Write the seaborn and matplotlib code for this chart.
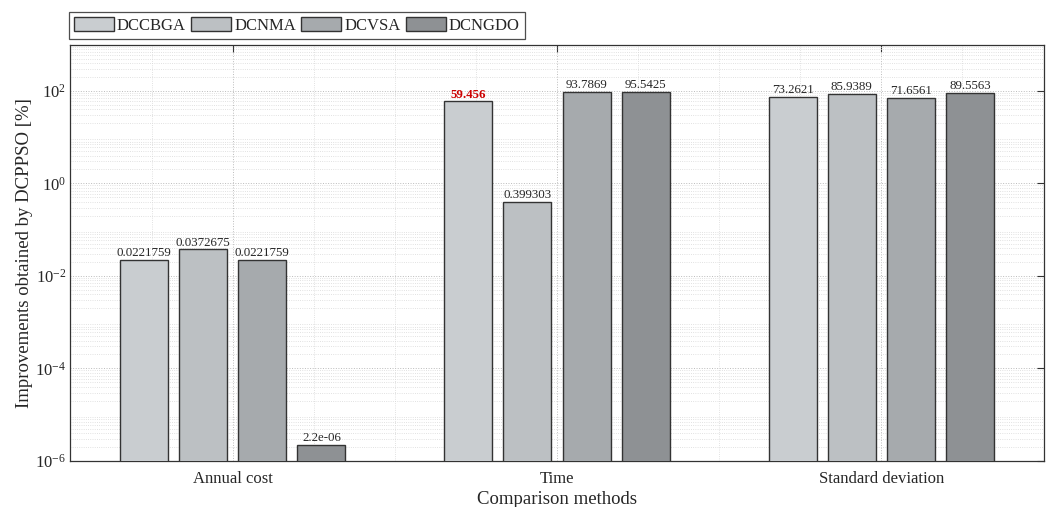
import numpy as np
import pandas as pd
import seaborn as sns
import matplotlib.pyplot as plt
from matplotlib.ticker import LogLocator, MultipleLocator, NullFormatter

# data
categories = ['Annual cost', 'Time', 'Standard deviation']
methods = ['DCCBGA', 'DCNMA', 'DCVSA', 'DCNGDO']
dccbga = [0.0221759, 59.456, 73.2621]
dcnma = [0.0372675, 0.399303, 85.9389]
dcvsa = [0.0221759, 93.7869, 71.6561]
dcngdo = [2.2e-06, 95.5425, 89.5563]
labels_txt = {
    'DCCBGA': ['0.0221759', '59.456', '73.2621'],
    'DCNMA': ['0.0372675', '0.399303', '85.9389'],
    'DCVSA': ['0.0221759', '93.7869', '71.6561'],
    'DCNGDO': ['2.2e-06', '95.5425', '89.5563'],
}
colors = ['#c9cdd0', '#bcc0c3', '#a6aaad', '#8e9194']

rows = []
for m, vals in zip(methods, [dccbga, dcnma, dcvsa, dcngdo]):
    for c, v in zip(categories, vals):
        rows.append({'cat': c, 'method': m, 'val': v})
df = pd.DataFrame(rows)

sns.set_style('white')
plt.rcParams['font.family'] = ['Liberation Serif', 'DejaVu Serif']
plt.rcParams['mathtext.fontset'] = 'stix'

fig, ax = plt.subplots(figsize=(10.52, 5.07), dpi=100)
fig.subplots_adjust(left=0.067, right=0.992, top=0.912, bottom=0.091)

ax.set_yscale('log')
sns.barplot(data=df, x='cat', y='val', hue='method', order=categories,
            hue_order=methods, palette=colors, width=0.73, gap=0.19,
            edgecolor='#333333', linewidth=1.0, saturation=1, ax=ax, zorder=3)

ax.set_ylim(1e-6, 1e3)
ax.set_xlim(-0.5, 2.5)

# value labels
for cont, m in zip(ax.containers, methods):
    txts = ax.bar_label(cont, labels=labels_txt[m], padding=0.5, fontsize=9.3)
    if m == 'DCCBGA':
        txts[1].set_color('#cc0000')
        txts[1].set_fontweight('bold')

# ticks / grid
ax.set_yticks([1e-6, 1e-4, 1e-2, 1e0, 1e2])
ax.yaxis.set_minor_locator(LogLocator(base=10, subs=np.arange(2, 10), numticks=20))
ax.yaxis.set_minor_formatter(NullFormatter())
ax.xaxis.set_minor_locator(MultipleLocator(0.25))
ax.grid(which='major', linestyle=':', color='#bbbbbb', linewidth=0.7, zorder=0)
ax.grid(which='minor', linestyle=':', color='#d8d8d8', linewidth=0.6, zorder=0)
ax.tick_params(which='major', direction='in', length=5, top=True, right=True,
               labelsize=12, color='#333333', pad=3)
ax.tick_params(axis='x', which='major', pad=7)
ax.tick_params(which='minor', length=0)
for s in ax.spines.values():
    s.set_color('#333333')
    s.set_linewidth(0.9)

ax.set_xlabel('Comparison methods', fontsize=13.5, labelpad=3)
ax.set_ylabel('Improvements obtained by DCPPSO [%]', fontsize=13.5, labelpad=2)

leg = ax.legend(loc='lower left', bbox_to_anchor=(-0.002, 1.014), ncol=4,
                frameon=True, fancybox=False, edgecolor='#222222', fontsize=12,
                handlelength=2.4, handleheight=0.9, handletextpad=0.2,
                columnspacing=0.3, borderpad=0.3, borderaxespad=0)
leg.get_frame().set_linewidth(0.9)

fig.savefig('out.png', dpi=100)
